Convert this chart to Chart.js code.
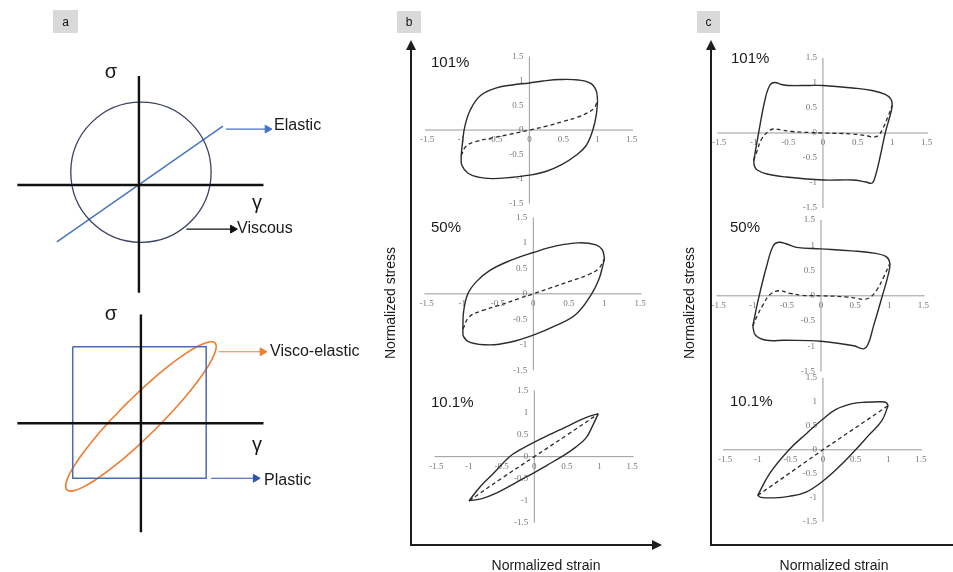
<!DOCTYPE html>
<html><head><meta charset="utf-8">
<script src="https://cdn.jsdelivr.net/npm/chart.js@4/dist/chart.umd.min.js"></script>
<style>html,body{margin:0;padding:0;background:#fff;overflow:hidden}#wrap{position:relative;width:953px;height:572px}</style>
</head><body><div id="wrap"><canvas id="c" width="953" height="572"></canvas></div>
<script>
// ---------------- DATA ----------------
const tickVals = [-1.5, -1, -0.5, 0, 0.5, 1, 1.5];
const tickLabels = ['-1.5', '-1', '-0.5', '0', '0.5', '1', '1.5'];
const strainAmps = ['101%', '50%', '10.1%'];

// panel a (schematic), top: axes, circle (viscous), line (elastic)
const aTopVAxis = [[0, 1.586], [0, -1.571]];
const aTopHAxis = [[-1.757, 0], [1.8, 0]];
const viscousCircle = { cx: 0.029, cy: 0.186, r: 1.014 };
const elasticLine = [[-1.186, -0.829], [1.214, 0.857]];
const elasticArrow = [[1.257, 0.814], [1.857, 0.814]];
const viscousArrow = [[0.686, -0.643], [1.357, -0.643]];
// panel a, bottom: axes, square (plastic), ellipse (visco-elastic)
const aBotVAxis = [[0, 1.644], [0, -1.644]];
const aBotHAxis = [[-1.852, 0], [1.837, 0]];
const plasticSquare = [[-1.022, 1.156], [0.978, 1.156], [0.978, -0.83], [-1.022, -0.83], [-1.022, 1.156]];
const viscoEllipse = [[-0.205, 0.309], [-0.485, 0.015], [-0.733, -0.273], [-0.930, -0.536], [-1.064, -0.754], [-1.125, -0.915], [-1.110, -1.006], [-1.019, -1.021], [-0.858, -0.960], [-0.640, -0.826], [-0.377, -0.629], [-0.089, -0.381], [0.205, -0.101], [0.485, 0.193], [0.733, 0.481], [0.930, 0.744], [1.064, 0.962], [1.125, 1.123], [1.110, 1.214], [1.019, 1.229], [0.858, 1.168], [0.640, 1.034], [0.377, 0.837], [0.089, 0.589], [-0.205, 0.309]];
const viscoArrow = [[1.17, 1.081], [1.822, 1.081]];
const plasticArrow = [[1.052, -0.83], [1.719, -0.83]];

// panel b: normalized stress vs normalized strain
const b101Upper = [[1, 0.6], [0.98, 0.8], [0.9, 0.95], [0.72, 1.02], [0.45, 1.03], [0.2, 1.0], [0, 0.96], [-0.25, 0.92], [-0.48, 0.86], [-0.72, 0.7], [-0.87, 0.4], [-0.95, 0.05], [-0.98, -0.25], [-1, -0.52]];
const b101Lower = [[-1, -0.52], [-0.99, -0.72], [-0.9, -0.88], [-0.75, -0.96], [-0.55, -0.99], [-0.3, -0.97], [0, -0.92], [0.25, -0.84], [0.48, -0.7], [0.68, -0.52], [0.83, -0.32], [0.93, 0], [0.98, 0.3], [1, 0.6]];
const b101Dash = [[-1, -0.52], [-0.93, -0.33], [-0.8, -0.24], [-0.58, -0.17], [-0.3, -0.09], [0, 0], [0.25, 0.08], [0.48, 0.17], [0.7, 0.26], [0.85, 0.35], [0.95, 0.45], [1, 0.6]];

const b50Upper = [[1, 0.69], [0.97, 0.86], [0.88, 0.96], [0.64, 1.0], [0.32, 0.94], [0, 0.81], [-0.33, 0.65], [-0.61, 0.46], [-0.8, 0.24], [-0.92, 0], [-0.98, -0.35], [-0.99, -0.69]];
const b50Lower = [[-0.99, -0.69], [-0.98, -0.84], [-0.89, -0.95], [-0.61, -1.0], [-0.33, -0.95], [0, -0.81], [0.32, -0.62], [0.6, -0.4], [0.82, 0], [0.92, 0.28], [0.97, 0.52], [1, 0.69]];
const b50Dash = [[-0.99, -0.69], [-0.9, -0.45], [-0.7, -0.32], [-0.47, -0.22], [-0.2, -0.09], [0, 0], [0.25, 0.12], [0.54, 0.26], [0.78, 0.38], [0.92, 0.5], [1, 0.69]];

const b10Upper = [[-1, -1], [-0.83, -0.68], [-0.64, -0.4], [-0.38, 0], [-0.2, 0.17], [0, 0.33], [0.25, 0.51], [0.48, 0.67], [0.7, 0.83], [0.85, 0.92], [0.98, 0.97]];
const b10Lower = [[0.98, 0.97], [0.9, 0.72], [0.79, 0.42], [0.62, 0.2], [0.42, 0], [0.2, -0.19], [0, -0.36], [-0.2, -0.52], [-0.38, -0.67], [-0.6, -0.84], [-0.8, -0.95], [-1, -1]];
const b10Dash = [[-1, -1], [-0.5, -0.49], [0, 0], [0.5, 0.49], [0.98, 0.97]];

// panel c
const c101Outer = [[-1, -0.55], [-0.93, 0], [-0.84, 0.65], [-0.77, 0.95], [-0.7, 1.01], [-0.6, 0.97], [-0.5, 0.95], [-0.2, 0.95], [0, 0.95], [0.43, 0.9], [0.71, 0.85], [0.9, 0.77], [0.98, 0.68], [1.0, 0.55], [0.97, 0.35], [0.9, 0], [0.83, -0.45], [0.76, -0.85], [0.71, -1.0], [0.62, -0.98], [0.43, -0.94], [0, -0.94], [-0.53, -0.88], [-0.81, -0.82], [-0.95, -0.74], [-0.99, -0.66], [-1, -0.55]];
const c101Dash = [[-1, -0.55], [-0.95, -0.35], [-0.89, -0.13], [-0.8, 0.02], [-0.72, 0.08], [-0.6, 0.06], [-0.45, 0.03], [-0.2, 0.01], [0, 0], [0.43, -0.02], [0.65, -0.06], [0.73, -0.08], [0.8, -0.05], [0.87, 0.1], [0.94, 0.33], [1, 0.55]];

const c50Outer = [[-1, -0.6], [-0.92, -0.08], [-0.8, 0.57], [-0.7, 0.99], [-0.62, 1.06], [-0.51, 1.03], [-0.36, 0.96], [0, 0.93], [0.45, 0.89], [0.8, 0.84], [0.96, 0.77], [1.01, 0.64], [0.99, 0.44], [0.9, 0], [0.77, -0.6], [0.69, -0.96], [0.62, -1.05], [0.48, -0.99], [0, -0.9], [-0.53, -0.88], [-0.8, -0.88], [-0.96, -0.78], [-1, -0.6]];
const c50Dash = [[-1, -0.6], [-0.93, -0.38], [-0.85, -0.18], [-0.75, 0.02], [-0.62, 0.1], [-0.46, 0.05], [-0.28, 0.01], [0, 0], [0.36, -0.02], [0.53, -0.05], [0.62, -0.07], [0.72, -0.03], [0.82, 0.12], [0.93, 0.4], [1.01, 0.64]];

const c10Upper = [[-1, -0.95], [-0.82, -0.5], [-0.52, 0], [-0.26, 0.33], [0, 0.64], [0.2, 0.84], [0.45, 0.96], [0.65, 0.99], [0.9, 1.0], [0.97, 0.98], [1, 0.92]];
const c10Lower = [[1, 0.92], [0.9, 0.6], [0.7, 0.3], [0.5, 0], [0.25, -0.35], [0, -0.65], [-0.26, -0.88], [-0.52, -0.97], [-0.75, -1.0], [-0.95, -0.99], [-1, -0.95]];
const c10Dash = [[-1, -0.95], [0, 0], [1, 0.92]];

// ---------------- LAYOUT (pixel frames of each sub-plot) ----------------
const W = 953, H = 572;
const frames = {
  a1: { ox: 135, oy: 183, ux: 70, uy: 70 },
  a2: { ox: 137, oy: 426, ux: 67.5, uy: 67.5 },
  b1: { ox: 530, oy: 127, ux: 69, uy: 50 },
  b2: { ox: 534, oy: 294, ux: 72, uy: 52 },
  b3: { ox: 535, oy: 460, ux: 66, uy: 45 },
  c1: { ox: 827, oy: 130, ux: 70, uy: 51 },
  c2: { ox: 825, oy: 296, ux: 69, uy: 51.5 },
  c3: { ox: 827, oy: 453, ux: 66, uy: 49 }
};
const scales = {};
for (const [k, f] of Object.entries(frames)) {
  scales['x' + k] = { type: 'linear', display: false, min: -f.ox / f.ux, max: (W - f.ox) / f.ux };
  scales['y' + k] = { type: 'linear', display: false, min: (f.oy - H) / f.uy, max: f.oy / f.uy };
}

const CURVE = '#2b2b2b';
const BLUE = '#4472c4';
const ORANGE = '#ed7d31';
const toXY = arr => arr.map(([x, y]) => ({ x, y }));
function line(arr, fr, color, extra) {
  return Object.assign({
    data: toXY(arr), xAxisID: 'x' + fr, yAxisID: 'y' + fr, showLine: true,
    borderColor: color, borderWidth: 1.4, pointRadius: 0, tension: 0.4, fill: false, clip: false
  }, extra || {});
}
function arrow(arr, fr, color, w) {
  return line(arr, fr, color, {
    tension: 0, borderWidth: w || 1.2, pointRadius: [0, 4.5], pointStyle: 'triangle', pointRotation: 90,
    pointBackgroundColor: color, pointBorderColor: color, pointBorderWidth: 1
  });
}
const dash = { borderDash: [4, 3], borderWidth: 1.3 };

const datasets = [
  // panel a top
  line(aTopVAxis, 'a1', '#111', { tension: 0, borderWidth: 2.4 }),
  line(aTopHAxis, 'a1', '#111', { tension: 0, borderWidth: 2.4 }),
  {
    data: [{ x: viscousCircle.cx, y: viscousCircle.cy }], xAxisID: 'xa1', yAxisID: 'ya1', showLine: false, clip: false,
    pointStyle: 'circle', pointBackgroundColor: 'rgba(0,0,0,0)', pointBorderColor: '#3c4262', pointBorderWidth: 1.3,
    pointRadius: (ctx) => { const s = ctx.chart.scales.xa1; return s.getPixelForValue(viscousCircle.r) - s.getPixelForValue(0); }
  },
  line(elasticLine, 'a1', BLUE, { tension: 0, borderWidth: 1.4 }),
  arrow(elasticArrow, 'a1', BLUE),
  arrow(viscousArrow, 'a1', '#111'),
  // panel a bottom
  line(aBotVAxis, 'a2', '#111', { tension: 0, borderWidth: 2.4 }),
  line(aBotHAxis, 'a2', '#111', { tension: 0, borderWidth: 2.4 }),
  line(plasticSquare, 'a2', '#4a6cb3', { tension: 0, borderWidth: 1.5 }),
  line(viscoEllipse, 'a2', ORANGE, { tension: 0.3, borderWidth: 1.6 }),
  arrow(viscoArrow, 'a2', ORANGE),
  arrow(plasticArrow, 'a2', '#2f55a4'),
  // panel b
  line(b101Upper, 'b1', CURVE), line(b101Lower, 'b1', CURVE), line(b101Dash, 'b1', CURVE, dash),
  line(b50Upper, 'b2', CURVE), line(b50Lower, 'b2', CURVE), line(b50Dash, 'b2', CURVE, dash),
  line(b10Upper, 'b3', CURVE), line(b10Lower, 'b3', CURVE), line(b10Dash, 'b3', CURVE, dash),
  // panel c
  line(c101Outer, 'c1', CURVE), line(c101Dash, 'c1', CURVE, dash),
  line(c50Outer, 'c2', CURVE), line(c50Dash, 'c2', CURVE, dash),
  line(c10Upper, 'c3', CURVE), line(c10Lower, 'c3', CURVE), line(c10Dash, 'c3', CURVE, Object.assign({ tension: 0 }, dash))
];

const SANS = '"Liberation Sans", Arial, sans-serif';
const SERIF = '"Liberation Serif", "Times New Roman", serif';

const deco = {
  id: 'deco',
  beforeDatasetsDraw(chart) {
    const ctx = chart.ctx;
    ctx.save();
    ['b1', 'b2', 'b3', 'c1', 'c2', 'c3'].forEach(k => {
      const xs = chart.scales['x' + k], ys = chart.scales['y' + k];
      const x0 = xs.getPixelForValue(0), y0 = ys.getPixelForValue(0);
      const lo = tickVals[0], hi = tickVals[tickVals.length - 1];
      ctx.strokeStyle = '#9a9a9a'; ctx.lineWidth = 1;
      ctx.beginPath();
      ctx.moveTo(xs.getPixelForValue(lo - 0.03), y0); ctx.lineTo(xs.getPixelForValue(hi + 0.02), y0);
      ctx.moveTo(x0, ys.getPixelForValue(hi)); ctx.lineTo(x0, ys.getPixelForValue(lo));
      ctx.stroke();
      ctx.fillStyle = '#777'; ctx.font = '9px ' + SERIF;
      ctx.textAlign = 'center'; ctx.textBaseline = 'middle';
      tickVals.forEach((v, i) => ctx.fillText(tickLabels[i], xs.getPixelForValue(v), y0 + 10));
      ctx.textAlign = 'right';
      tickVals.forEach((v, i) => ctx.fillText(tickLabels[i], x0 - 6, ys.getPixelForValue(v)));
    });
    ctx.restore();
  },
  afterDatasetsDraw(chart) {
    const ctx = chart.ctx;
    ctx.save();
    // panel letter boxes
    [['a', 53, 10, 25, 23], ['b', 397, 11, 24, 22], ['c', 697, 11, 23, 22]].forEach(([t, x, y, w, h]) => {
      ctx.fillStyle = '#d9d9d9'; ctx.fillRect(x, y, w, h);
      ctx.fillStyle = '#111'; ctx.font = '12px ' + SANS; ctx.textAlign = 'center'; ctx.textBaseline = 'middle';
      ctx.fillText(t, x + w / 2, y + h / 2 + 1);
    });
    // panel a labels
    ctx.fillStyle = '#1a1a1a'; ctx.textAlign = 'left'; ctx.textBaseline = 'middle';
    ctx.font = '16px ' + SANS;
    ctx.fillText('Elastic', 274, 126);
    ctx.fillText('Viscous', 237, 229);
    ctx.fillText('Visco-elastic', 270, 352);
    ctx.fillText('Plastic', 264, 481);
    ctx.font = '20px ' + SANS; ctx.textAlign = 'center';
    ctx.fillText('σ', 111, 72);
    ctx.fillText('γ', 257, 203);
    ctx.fillText('σ', 111, 314);
    ctx.fillText('γ', 257, 445);
    // amplitude labels
    ctx.font = '15px ' + SANS; ctx.textAlign = 'left';
    const ampPos = [[431, 63], [431, 228], [431, 403], [731, 59], [730, 228], [730, 402]];
    ampPos.forEach((p, i) => ctx.fillText(strainAmps[i % 3], p[0], p[1]));
    // big axes with arrows
    ctx.strokeStyle = '#1e1e1e'; ctx.fillStyle = '#1e1e1e'; ctx.lineWidth = 2;
    const head = (x, y, dir) => {
      ctx.beginPath();
      if (dir === 'up') { ctx.moveTo(x, y); ctx.lineTo(x - 5, y + 10); ctx.lineTo(x + 5, y + 10); }
      else { ctx.moveTo(x, y); ctx.lineTo(x - 10, y - 5); ctx.lineTo(x - 10, y + 5); }
      ctx.closePath(); ctx.fill();
    };
    ctx.beginPath();
    ctx.moveTo(411, 48); ctx.lineTo(411, 545); ctx.lineTo(653, 545);
    ctx.moveTo(711, 48); ctx.lineTo(711, 545); ctx.lineTo(953, 545);
    ctx.stroke();
    head(411, 40, 'up'); head(662, 545, 'right'); head(711, 40, 'up');
    // axis titles
    ctx.fillStyle = '#1a1a1a'; ctx.font = '14px ' + SANS; ctx.textAlign = 'center'; ctx.textBaseline = 'middle';
    ctx.fillText('Normalized strain', 546, 566);
    ctx.fillText('Normalized strain', 834, 566);
    [[391, 303], [690, 303]].forEach(([x, y]) => {
      ctx.save(); ctx.translate(x, y); ctx.rotate(-Math.PI / 2);
      ctx.fillText('Normalized stress', 0, 0); ctx.restore();
    });
    ctx.restore();
  }
};

new Chart(document.getElementById('c'), {
  type: 'scatter',
  data: { datasets },
  options: {
    responsive: false, animation: false, events: [],
    layout: { padding: 0 },
    plugins: { legend: { display: false }, tooltip: { enabled: false }, title: { display: false } },
    scales
  },
  plugins: [deco]
});
</script></body></html>
